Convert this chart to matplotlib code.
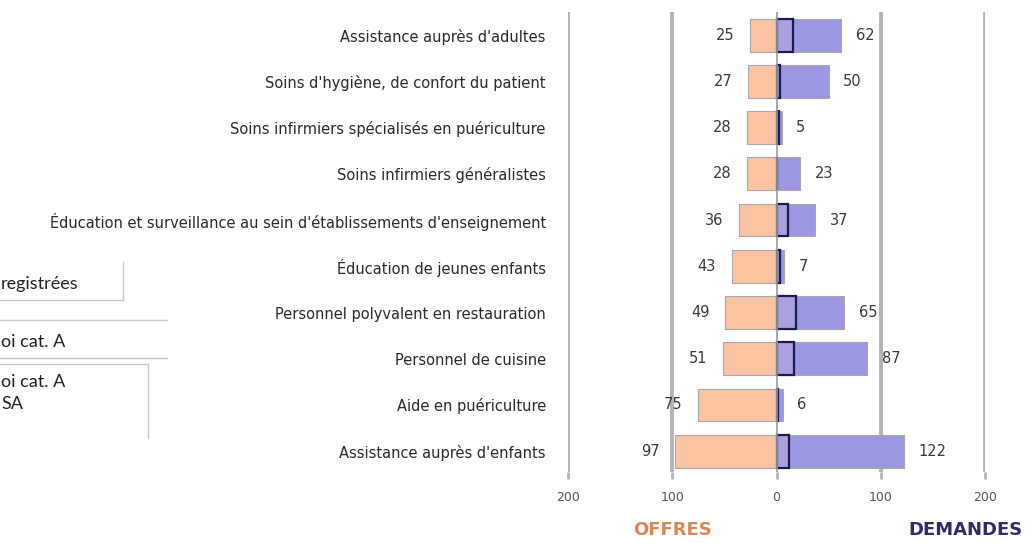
import matplotlib
matplotlib.use("Agg")
import matplotlib.pyplot as plt
from matplotlib.lines import Line2D

# Métiers, du haut vers le bas
categories = [
    "Assistance auprès d'adultes",
    "Soins d'hygiène, de confort du patient",
    "Soins infirmiers spécialisés en puériculture",
    "Soins infirmiers généralistes",
    "Éducation et surveillance au sein d'établissements d'enseignement",
    "Éducation de jeunes enfants",
    "Personnel polyvalent en restauration",
    "Personnel de cuisine",
    "Aide en puériculture",
    "Assistance auprès d'enfants",
]
offres = [25, 27, 28, 28, 36, 43, 49, 51, 75, 97]
demandes = [62, 50, 5, 23, 37, 7, 65, 87, 6, 122]
demandes_rsa = [16, 3, 2, 0, 11, 3, 19, 17, 1, 12]
xticks = [-200, -100, 0, 100, 200]
xtick_labels = ["200", "100", "0", "100", "200"]

W, H = 1032, 543
C_OFF = "#fcc3a3"
C_DEM = "#9c97e2"
C_RSA = "#aaa0e0"
C_GRID = "#b4b4b4"

fig = plt.figure(figsize=(W / 100, H / 100), dpi=100)
ax = fig.add_axes([568 / W, 1 - 472 / H, (985 - 568) / W, (472 - 12) / H])

y = list(range(len(categories)))
neg_offres = [-v for v in offres]

for xv in (-200, -100, 100, 200):
    ax.axvline(xv, color=C_GRID, lw=2.8, zorder=0)

ax.barh(y, neg_offres, height=0.71, color=C_OFF, edgecolor="#a8a8a8", lw=0.8, zorder=2)
ax.barh(y, demandes, height=0.71, color=C_DEM, edgecolor="#a8a8a8", lw=0.8, zorder=2)
ax.barh(y, demandes_rsa, height=0.71, color=C_RSA, edgecolor="#1c1c4a", lw=1.6, zorder=3)
ax.axvline(0, color="#9a9a9a", lw=1.2, zorder=4)

for yi, o, d in zip(y, offres, demandes):
    ax.text(-o - 15, yi, str(o), ha="right", va="center", fontsize=10.5, color="#3a3a3a")
    ax.text(d + 14, yi, str(d), ha="left", va="center", fontsize=10.5, color="#3a3a3a")

ax.set_xlim(-200, 200)
ax.set_ylim(len(categories) - 0.55, -0.5)
ax.set_yticks(y)
ax.set_yticklabels(categories, fontsize=10.5, color="#2a2a2a")
ax.tick_params(axis="y", length=0, pad=16)
ax.set_xticks(xticks)
ax.set_xticklabels(xtick_labels, fontsize=9, color="#555555")
ax.tick_params(axis="x", length=5, color=C_GRID, width=2, pad=9)
for s in ax.spines.values():
    s.set_visible(False)

fig.text(672 / W, 1 - 530 / H, "OFFRES", ha="center", va="center",
         fontsize=13, fontweight="bold", color="#d9865a")
fig.text(966 / W, 1 - 530 / H, "DEMANDES", ha="center", va="center",
         fontsize=13, fontweight="bold", color="#2e2e66")

# Cadres de légende à gauche, rognés par le bord de la figure
def px_line(x0, y0, x1, y1):
    fig.add_artist(Line2D([x0 / W, x1 / W], [1 - y0 / H, 1 - y1 / H],
                          transform=fig.transFigure, color="#c8c8c8", lw=1))

px_line(123, 262, 123, 300)
px_line(0, 300, 123, 300)
px_line(0, 320, 167, 320)
px_line(0, 358, 167, 358)
px_line(0, 364, 148, 364)
px_line(148, 364, 148, 438)

lkw = dict(ha="left", va="center", fontsize=13, family="Lato", color="#222222")
fig.text(1 / W, 1 - 284 / H, "registrées", **lkw)
fig.text(1 / W, 1 - 342 / H, "oi cat. A", **lkw)
fig.text(1 / W, 1 - 382 / H, "oi cat. A", **lkw)
fig.text(1 / W, 1 - 404 / H, "SA", **lkw)

fig.savefig("out.png", dpi=100)
